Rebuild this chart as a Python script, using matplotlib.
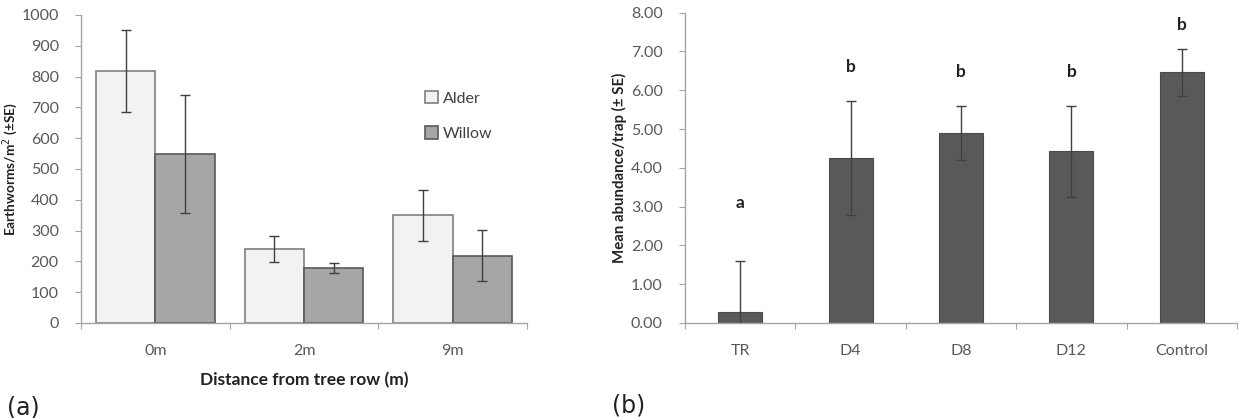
import matplotlib
matplotlib.use("Agg")
import matplotlib.pyplot as plt
import numpy as np

plt.rcParams['font.family'] = ['Lato', 'DejaVu Sans']

# Panel (a) data
distances = ["0m", "2m", "9m"]
alder = [818, 240, 350]
alder_se = [133, 42, 83]
willow = [549, 178, 219]
willow_se = [192, 16, 84]

# Panel (b) data
sites = ["TR", "D4", "D8", "D12", "Control"]
abundance = [0.29, 4.25, 4.90, 4.43, 6.46]
abundance_se = [1.31, 1.47, 0.69, 1.17, 0.60]
letters = ["a", "b", "b", "b", "b"]
letter_y = [3.10, 6.60, 6.48, 6.48, 7.68]

fig = plt.figure(figsize=(12.42, 4.18), dpi=100)
W, H = 1242, 418
axa = fig.add_axes([81 / W, 1 - 323 / H, (527 - 81) / W, (323 - 15) / H])
axb = fig.add_axes([685 / W, 1 - 323 / H, (1237 - 685) / W, (323 - 12.7) / H])

axis_col = "#a6a6a6"
tick_col = "#595959"


def style(ax, n, fs):
    for s in ["top", "right"]:
        ax.spines[s].set_visible(False)
    for s in ["left", "bottom"]:
        ax.spines[s].set_color(axis_col)
        ax.spines[s].set_linewidth(1.0)
    ax.set_xlim(-0.5, n - 0.5)
    ax.set_xticks(np.arange(n + 1) - 0.5)
    ax.set_xticklabels([])
    ax.tick_params(axis='x', which='major', length=4, color=axis_col, direction='out')
    ax.tick_params(axis='y', length=4, color=axis_col, direction='out',
                   labelsize=fs, labelcolor=tick_col, pad=12)
    ax.set_xticks(np.arange(n), minor=True)
    ax.tick_params(axis='x', which='minor', length=0, labelsize=fs,
                   labelcolor=tick_col, pad=15)


x = np.arange(len(distances))
bw = 0.4
err_kw = dict(ecolor="#404040", elinewidth=1.0, capsize=3.5, capthick=1.0)
axa.bar(x - bw / 2, alder, bw, yerr=alder_se, color="#f2f2f2", edgecolor="#7f7f7f",
        linewidth=1.2, error_kw=err_kw, label="Alder", zorder=2)
axa.bar(x + bw / 2, willow, bw, yerr=willow_se, color="#a6a6a6", edgecolor="#595959",
        linewidth=1.2, error_kw=err_kw, label="Willow", zorder=2)
style(axa, len(distances), 11.5)
axa.set_xticklabels(distances, minor=True)
axa.set_ylim(0, 1000)
axa.set_yticks(np.arange(0, 1001, 100))
axa.set_ylabel("Earthworms/m$^2$ (±SE)", fontsize=9.8, fontweight='bold', color="#222222")
axa.yaxis.set_label_coords(-0.137, 0.5)
axa.set_xlabel("Distance from tree row (m)", fontsize=12.5, fontweight='bold', color="#222222", labelpad=10)
axa.legend(loc='upper left', bbox_to_anchor=(0.74, 0.80), frameon=False, fontsize=11.5,
           handlelength=0.8, handleheight=0.8, handletextpad=0.3, labelspacing=1.3,
           labelcolor="#404040")

xb = np.arange(len(sites))
axb.bar(xb, abundance, 0.4, yerr=abundance_se, color="#595959", edgecolor="#4a4a4a",
        linewidth=0.8, error_kw=err_kw, zorder=2)
style(axb, len(sites), 11.5)
axb.set_xticklabels(sites, minor=True)
axb.set_ylim(0, 8)
axb.set_yticks(np.arange(0, 8.01, 1))
axb.set_yticklabels([f"{v:.2f}" for v in np.arange(0, 8.01, 1)])
axb.set_ylabel("Mean abundance/trap (± SE)", fontsize=10.8, fontweight='bold', color="#222222")
axb.yaxis.set_label_coords(-0.105, 0.5)
for xi, lt, ly in zip(xb, letters, letter_y):
    axb.text(xi, ly, lt, ha='center', va='center', fontsize=12.5, fontweight='bold', color="#222222")

fig.text(7 / W, 1 - 408 / H, "(a)", fontsize=17, va='center', ha='left', color="#222222",
         family=['DejaVu Sans'])
fig.text(612 / W, 1 - 406 / H, "(b)", fontsize=17, va='center', ha='left', color="#222222",
         family=['DejaVu Sans'])

fig.savefig("out.png", dpi=100)
